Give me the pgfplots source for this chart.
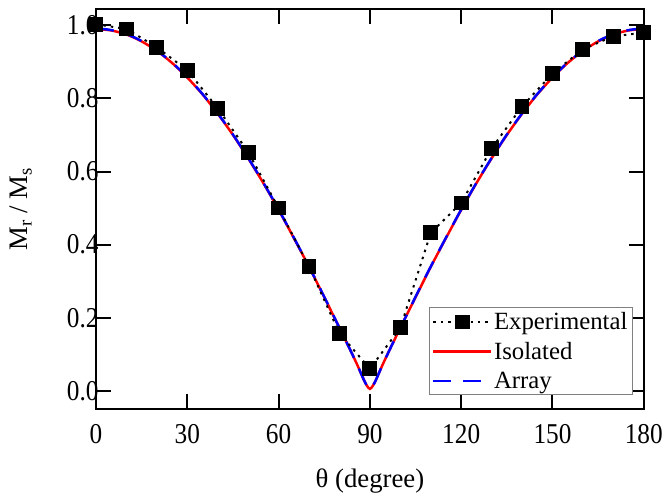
\documentclass[border=0pt]{standalone}
\usepackage{fontspec}
\setmainfont{Liberation Serif}
\newfontfamily\tickfont[FakeStretch=0.88]{Liberation Serif}
\usepackage{pgfplots}
\usepackage{pgfplotstable}
\pgfplotsset{compat=1.18}

\pgfplotstableread{
theta exp
0   1.003
10  0.990
20  0.940
30  0.877
40  0.773
50  0.653
60  0.500
70  0.340
80  0.157
90  0.060
100 0.172
110 0.432
120 0.514
130 0.663
140 0.778
150 0.868
160 0.935
170 0.970
180 0.980
}\expdata

\pgfplotstableread{
theta iso arr
0   0.990 0.992
5   0.986 0.987
10  0.975 0.976
15  0.956 0.957
20  0.930 0.931
25  0.897 0.898
30  0.857 0.858
35  0.811 0.812
40  0.758 0.759
45  0.700 0.701
50  0.636 0.637
55  0.568 0.569
60  0.495 0.496
65  0.418 0.419
70  0.339 0.340
75  0.256 0.257
80  0.172 0.172
83  0.121 0.121
85  0.086 0.086
86  0.068 0.068
87  0.049 0.049
88  0.030 0.030
89  0.014 0.014
90  0.005 0.004
91  0.014 0.014
92  0.030 0.030
93  0.049 0.049
94  0.068 0.068
95  0.086 0.086
97  0.121 0.121
100 0.172 0.172
105 0.256 0.257
110 0.339 0.340
115 0.418 0.419
120 0.495 0.496
125 0.568 0.569
130 0.636 0.637
135 0.700 0.701
140 0.758 0.759
145 0.811 0.812
150 0.857 0.858
155 0.897 0.898
160 0.930 0.931
165 0.956 0.957
170 0.975 0.976
175 0.986 0.987
180 0.990 0.992
}\curves

\begin{document}
\begin{tikzpicture}
\begin{axis}[
    width=553pt, height=404pt, scale only axis,
    xmin=0, xmax=180, ymin=-0.05, ymax=1.045,
    xtick={0,30,...,180},
    ytick={0,0.2,0.4,0.6,0.8,1.0},
    yticklabel style={xshift=6pt, /pgf/number format/fixed, /pgf/number format/fixed zerofill, /pgf/number format/precision=1},
    /pgf/number format/assume math mode=true,
    tick align=inside,
    major tick length=15pt,
    every tick/.style={black, line width=2pt},
    axis line style={line width=2pt},
    tick label style={font=\tickfont\fontsize{29}{31}\selectfont},
    xticklabel style={yshift=-12pt},
    label style={font=\fontsize{27}{30}\selectfont},
    xlabel={θ (degree)},
    ylabel={M\textsubscript{r} / M\textsubscript{s}},
    xlabel style={at={(axis description cs:0.5,-0.18)}, anchor=center},
    ylabel style={at={(axis description cs:-0.137,0.5)}, anchor=center},
    legend style={at={(rel axis cs:0.98,0.035)}, anchor=south east,
        draw=gray, line width=0.8pt, font=\fontsize{25}{27}\selectfont,
        inner sep=3pt, row sep=7pt},
    legend cell align=left,
    legend image code/.code={
        \draw[mark repeat=2, mark phase=2] plot coordinates {(0pt,0pt) (29pt,0pt) (58pt,0pt)};
    },
]
\coordinate (sw) at (rel axis cs:0,0);
\addlegendimage{black, line width=2pt, dash pattern=on 2.5pt off 5pt, mark=square*, mark size=6.5pt, mark options={solid}}
\addlegendentry{Experimental}
\addplot[red, line width=2.5pt, smooth] table[x=theta, y=iso] {\curves};
\addlegendentry{Isolated}
\addplot[blue, line width=2.5pt, smooth, dash pattern=on 18pt off 12pt] table[x=theta, y=arr] {\curves};
\addlegendentry{Array}
\addplot[black, line width=2pt, dash pattern=on 2.5pt off 5pt, mark=square*, mark size=6.5pt, mark options={solid}, forget plot] table[x=theta, y=exp] {\expdata};
\end{axis}
\path ([shift={(-97pt,-72pt)}]sw) rectangle ++(666pt,485pt);
\end{tikzpicture}
\end{document}
